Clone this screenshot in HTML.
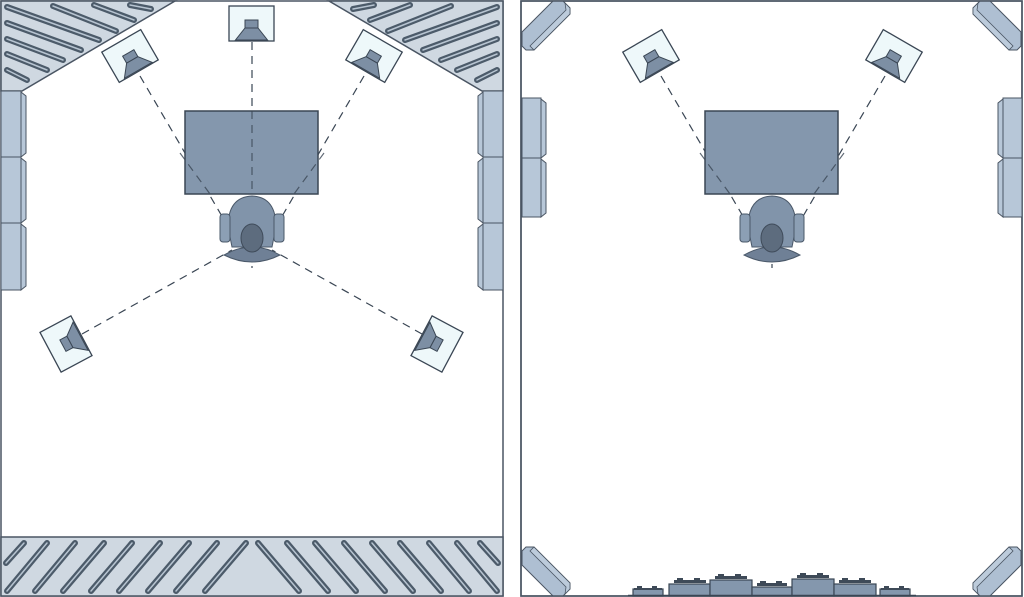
<!DOCTYPE html>
<html><head><meta charset="utf-8"><style>html,body{margin:0;padding:0;background:#fff;}svg{display:block}</style></head>
<body>
<svg width="1024" height="597" viewBox="0 0 1024 597" xmlns="http://www.w3.org/2000/svg">
<defs>
<g id="spk">
 <rect x="-22.5" y="-17.5" width="45" height="35" fill="#eef8fa" stroke="#3a4654" stroke-width="1.3"/>
 <rect x="-6.5" y="-3.5" width="13" height="8" fill="#7d8fa4" stroke="#3a4654" stroke-width="1"/>
 <polygon points="-6.5,4.5 6.5,4.5 16,16.5 -16,16.5" fill="#7d8fa4" stroke="#3a4654" stroke-width="1"/>
</g>
<g id="chair">
 <path d="M-24,-6 Q-24,-36 0,-37 Q24,-36 24,-6 L20,14 L-20,14 Z" fill="#8194aa" stroke="#4a5869" stroke-width="1"/>
 <path d="M-28,22 Q0,6 28,22 Q0,36 -28,22 Z" fill="#6f8096" stroke="#4a5869" stroke-width="1"/>
 <rect x="-32" y="-19" width="10" height="28" rx="3" fill="#8c9fb4" stroke="#4a5869" stroke-width="1"/>
 <rect x="22" y="-19" width="10" height="28" rx="3" fill="#8c9fb4" stroke="#4a5869" stroke-width="1"/>
 <ellipse cx="0" cy="5" rx="11" ry="14" fill="#5d6c7e" stroke="#3f4b5a" stroke-width="1"/>
</g>
<g id="bar">
 <polygon points="522,32 553,1 563,1 570,8 570,14 534,50 526,50 522,46" fill="#aebfd2" stroke="#4a5563" stroke-width="1"/>
 <polygon points="565,3 570,8 570,14 534,50 530,46 566,10" fill="#bccbdb" stroke="#4a5563" stroke-width="0.8"/>
</g>
<g id="cornerL">
<polygon points="1,1 175,1 22,91 1,91" fill="#cfd8e1" stroke="#4a5563" stroke-width="1.5"/>
<g stroke="#4c5b6a" stroke-width="6" stroke-linecap="round" fill="none">
<line x1="7" y1="7" x2="99" y2="40"/><line x1="7" y1="23" x2="81" y2="50"/><line x1="7" y1="39" x2="63" y2="60"/><line x1="7" y1="54" x2="47" y2="70"/><line x1="7" y1="70" x2="27" y2="80"/>
<line x1="53" y1="6" x2="116" y2="31"/><line x1="94" y1="5" x2="134" y2="20"/><line x1="130" y1="5" x2="151" y2="9"/>
</g>
<g stroke="#b7c4d1" stroke-width="1.5" stroke-linecap="round" fill="none">
<line x1="7" y1="7" x2="99" y2="40"/><line x1="7" y1="23" x2="81" y2="50"/><line x1="7" y1="39" x2="63" y2="60"/><line x1="7" y1="54" x2="47" y2="70"/><line x1="7" y1="70" x2="27" y2="80"/>
<line x1="53" y1="6" x2="116" y2="31"/><line x1="94" y1="5" x2="134" y2="20"/><line x1="130" y1="5" x2="151" y2="9"/>
</g>
</g>
</defs>

<rect x="1" y="1" width="502" height="595" fill="#fff" stroke="#4a5563" stroke-width="1.5"/>
<use href="#cornerL"/>
<use href="#cornerL" transform="translate(504,0) scale(-1,1)"/>
<g fill="#b7c7d8" stroke="#4a5563" stroke-width="1">
<polygon points="21,92 26,96 26,153 21,157"/><rect x="1" y="91" width="20" height="66"/>
<polygon points="21,158 26,162 26,219 21,223"/><rect x="1" y="157" width="20" height="66"/>
<polygon points="21,224 26,228 26,286 21,290"/><rect x="1" y="223" width="20" height="67"/>
<polygon points="483,92 478,96 478,153 483,157"/><rect x="483" y="91" width="20" height="66"/>
<polygon points="483,158 478,162 478,219 483,223"/><rect x="483" y="157" width="20" height="66"/>
<polygon points="483,224 478,228 478,286 483,290"/><rect x="483" y="223" width="20" height="67"/>
</g>
<g stroke="#3a4654" stroke-width="1.2" stroke-dasharray="8,6" fill="none">
<line x1="252" y1="42" x2="252" y2="268"/>
<line x1="140" y1="76" x2="230" y2="230"/>
<line x1="364" y1="76" x2="274" y2="230"/>
<line x1="82" y1="334" x2="232" y2="250"/>
<line x1="422" y1="334" x2="272" y2="250"/>
</g>
<rect x="185" y="111" width="133" height="83" fill="#8497ad" stroke="#3a4654" stroke-width="1.5"/>
<g stroke="#3a4654" stroke-width="1.2" stroke-dasharray="8,6" fill="none" opacity="0.8">
<line x1="252" y1="111" x2="252" y2="194"/>
<line x1="180" y1="153" x2="210" y2="194"/>
<line x1="324" y1="153" x2="294" y2="194"/>
</g>
<use href="#chair" x="252" y="233"/>
<use href="#spk" transform="translate(251.5,23.5)"/>
<use href="#spk" transform="translate(130,56) rotate(-30)"/>
<use href="#spk" transform="translate(374,56) rotate(30)"/>
<use href="#spk" transform="translate(66,344) rotate(-118)"/>
<use href="#spk" transform="translate(437,344) rotate(118)"/>
<rect x="1" y="537" width="502" height="59" fill="#cfd8e1" stroke="#4a5563" stroke-width="1.5"/>
<g stroke="#4c5b6a" stroke-width="6" stroke-linecap="round" fill="none">
<line x1="6" y1="563" x2="24" y2="543"/>
<line x1="7" y1="591" x2="47" y2="543"/><line x1="35" y1="591" x2="75" y2="543"/><line x1="63" y1="591" x2="104" y2="543"/><line x1="91" y1="591" x2="132" y2="543"/><line x1="119" y1="591" x2="160" y2="543"/><line x1="148" y1="591" x2="189" y2="543"/><line x1="176" y1="591" x2="217" y2="543"/><line x1="205" y1="591" x2="246" y2="543"/>
<line x1="498" y1="563" x2="480" y2="543"/>
<line x1="497" y1="591" x2="457" y2="543"/><line x1="469" y1="591" x2="429" y2="543"/><line x1="441" y1="591" x2="400" y2="543"/><line x1="413" y1="591" x2="372" y2="543"/><line x1="385" y1="591" x2="344" y2="543"/><line x1="356" y1="591" x2="315" y2="543"/><line x1="328" y1="591" x2="287" y2="543"/><line x1="299" y1="591" x2="258" y2="543"/>
</g>
<g stroke="#b7c4d1" stroke-width="1.5" stroke-linecap="round" fill="none">
<line x1="6" y1="563" x2="24" y2="543"/>
<line x1="7" y1="591" x2="47" y2="543"/><line x1="35" y1="591" x2="75" y2="543"/><line x1="63" y1="591" x2="104" y2="543"/><line x1="91" y1="591" x2="132" y2="543"/><line x1="119" y1="591" x2="160" y2="543"/><line x1="148" y1="591" x2="189" y2="543"/><line x1="176" y1="591" x2="217" y2="543"/><line x1="205" y1="591" x2="246" y2="543"/>
<line x1="498" y1="563" x2="480" y2="543"/>
<line x1="497" y1="591" x2="457" y2="543"/><line x1="469" y1="591" x2="429" y2="543"/><line x1="441" y1="591" x2="400" y2="543"/><line x1="413" y1="591" x2="372" y2="543"/><line x1="385" y1="591" x2="344" y2="543"/><line x1="356" y1="591" x2="315" y2="543"/><line x1="328" y1="591" x2="287" y2="543"/><line x1="299" y1="591" x2="258" y2="543"/>
</g>

<rect x="521" y="1" width="501" height="595" fill="#fff" stroke="#4a5563" stroke-width="1.5"/>
<use href="#bar"/>
<use href="#bar" transform="translate(0,597) scale(1,-1)"/>
<use href="#bar" transform="translate(1543,0) scale(-1,1)"/>
<use href="#bar" transform="translate(1543,597) scale(-1,-1)"/>
<rect x="521" y="1" width="501" height="595" fill="none" stroke="#4a5563" stroke-width="1.5"/>
<g fill="#b7c7d8" stroke="#4a5563" stroke-width="1">
<polygon points="541,99 546,103 546,154 541,158"/><rect x="522" y="98" width="19" height="60"/>
<polygon points="541,159 546,163 546,213 541,217"/><rect x="522" y="158" width="19" height="59"/>
<polygon points="1003,99 998,103 998,154 1003,158"/><rect x="1003" y="98" width="19" height="60"/>
<polygon points="1003,159 998,163 998,213 1003,217"/><rect x="1003" y="158" width="19" height="59"/>
</g>
<g stroke="#3a4654" stroke-width="1.2" stroke-dasharray="8,6" fill="none">
<line x1="661" y1="76" x2="751" y2="230"/>
<line x1="885" y1="76" x2="795" y2="230"/>
<line x1="772" y1="250" x2="772" y2="268"/>
</g>
<rect x="705" y="111" width="133" height="83" fill="#8497ad" stroke="#3a4654" stroke-width="1.5"/>
<g stroke="#3a4654" stroke-width="1.2" stroke-dasharray="8,6" fill="none" opacity="0.8">
<line x1="700" y1="153" x2="730" y2="194"/>
<line x1="844" y1="153" x2="814" y2="194"/>
</g>
<use href="#chair" x="772" y="233"/>
<use href="#spk" transform="translate(651,56) rotate(-30)"/>
<use href="#spk" transform="translate(894,56) rotate(30)"/>
<g fill="#8497ad" stroke="#3a4654" stroke-width="1.2">
<rect x="633" y="589" width="30" height="7"/>
<rect x="669" y="584" width="41" height="12"/>
<rect x="710" y="580" width="42" height="16"/>
<rect x="752" y="587" width="40" height="9"/>
<rect x="792" y="579" width="42" height="17"/>
<rect x="834" y="584" width="42" height="12"/>
<rect x="880" y="589" width="30" height="7"/>
</g>
<g fill="#3e4a58">
<rect x="634" y="588" width="28" height="2"/><rect x="637" y="586" width="5" height="3"/><rect x="652" y="586" width="5" height="3"/>
<rect x="674" y="580" width="32" height="3"/><rect x="677" y="578" width="6" height="3"/><rect x="694" y="578" width="6" height="3"/>
<rect x="715" y="576" width="32" height="3"/><rect x="718" y="574" width="6" height="3"/><rect x="735" y="574" width="6" height="3"/>
<rect x="757" y="583" width="30" height="3"/><rect x="760" y="581" width="6" height="3"/><rect x="776" y="581" width="6" height="3"/>
<rect x="797" y="575" width="32" height="3"/><rect x="800" y="573" width="6" height="3"/><rect x="817" y="573" width="6" height="3"/>
<rect x="839" y="580" width="32" height="3"/><rect x="842" y="578" width="6" height="3"/><rect x="859" y="578" width="6" height="3"/>
<rect x="881" y="588" width="28" height="2"/><rect x="884" y="586" width="5" height="3"/><rect x="899" y="586" width="5" height="3"/>
</g>
<line x1="628" y1="595.5" x2="916" y2="595.5" stroke="#3a4654" stroke-width="1.5"/>
</svg>
</body></html>
